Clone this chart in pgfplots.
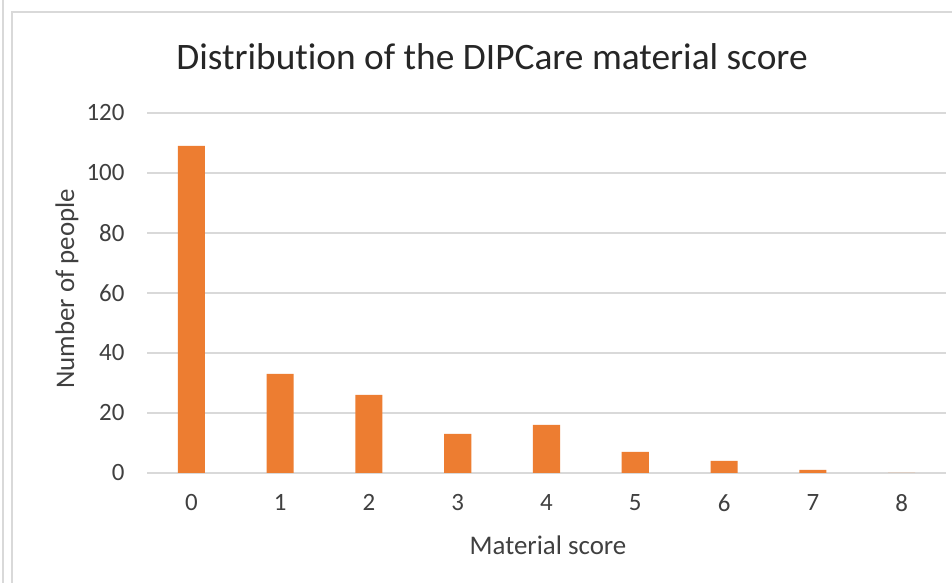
\documentclass[border=0pt]{standalone}
\usepackage{fontspec}
\setmainfont[Ligatures={NoCommon}]{Carlito}
\usepackage{pgfplots}
\pgfplotsset{compat=1.18}
\definecolor{barorange}{HTML}{ED7D31}
\definecolor{gridgray}{HTML}{D9D9D9}
\definecolor{txt}{HTML}{404040}
\definecolor{framegray}{HTML}{D9D9D9}
\begin{document}
\begin{tikzpicture}[x=1bp,y=1bp]
\useasboundingbox (0,0) rectangle (952,583);
\fill[white] (0,0) rectangle (952,583);
\draw[framegray,line width=2bp] (3,0) -- (3,583);
\draw[framegray,line width=2bp] (11.5,0) -- (11.5,571) -- (952,571);
\begin{axis}[
  at={(147bp,110bp)}, anchor=south west,
  scale only axis, width=799bp, height=360bp,
  xmin=-0.5, xmax=8.5, ymin=0, ymax=120,
  ytick={0,20,...,120},
  xtick={0,1,...,8},
  ymajorgrids, grid style={gridgray,line width=1.5bp},
  axis line style={draw=none},
  major tick length=0pt,
  /pgf/number format/assume math mode=true,
  ticklabel style={font=\fontsize{25}{29}\selectfont, text=txt},
  xticklabel shift=18bp,
  yticklabel shift=19bp,
  ybar, bar width=0.305,
  clip=false,
]
\addplot[fill=barorange, draw=none] coordinates {
  (0,109) (1,33) (2,26) (3,13) (4,16) (5,7) (6,4) (7,1) (8,0)
};
\end{axis}
\node[text=black!85, font=\fontsize{37.5}{42}\selectfont] at (492,526) {Distribution of the DIPCare material score};
\node[text=txt, font=\fontsize{27}{31}\selectfont] at (548,38) {Material score};
\node[text=txt, font=\fontsize{27}{31}\selectfont, rotate=90] at (67,294) {Number of people};
\end{tikzpicture}
\end{document}
